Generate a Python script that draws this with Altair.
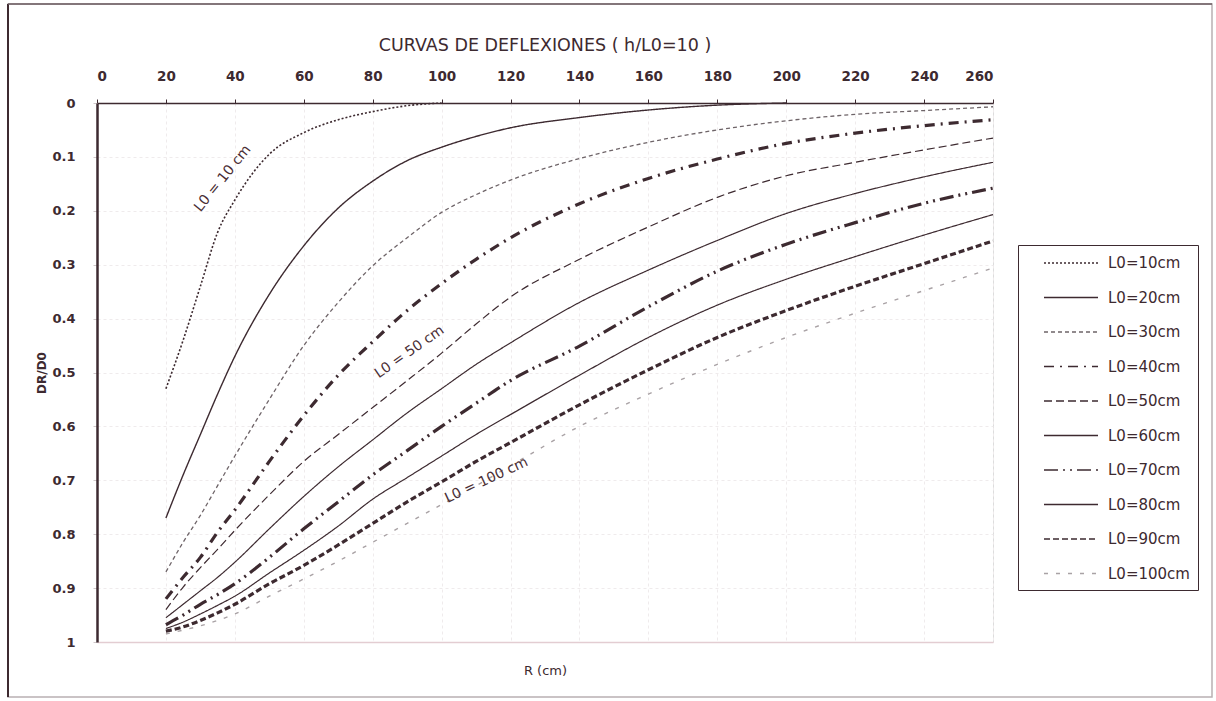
import altair as alt
import pandas as pd

# ---- data ----
R = [20, 25, 30, 35, 40, 50, 60, 70, 80, 90, 100, 110, 120, 140, 160, 180, 200, 220, 240, 260]

L0_10 = [0.53, 0.44, 0.34, 0.24, 0.18, 0.095, 0.055, 0.031, 0.016, 0.005, 0.0,
         None, None, None, None, None, None, None, None, None]
L0_20 = [0.77, 0.69, 0.615, 0.54, 0.47, 0.355, 0.265, 0.195, 0.145, 0.107, 0.082,
         0.062, 0.046, 0.027, 0.013, 0.004, 0.0, None, None, None]
L0_30 = [0.87, 0.815, 0.765, 0.71, 0.655, 0.55, 0.45, 0.37, 0.302, 0.25, 0.203,
         0.17, 0.143, 0.103, 0.073, 0.05, 0.033, 0.021, 0.014, 0.007]
L0_40 = [0.92, 0.88, 0.843, 0.796, 0.755, 0.665, 0.58, 0.505, 0.443, 0.385, 0.335,
         0.29, 0.25, 0.187, 0.14, 0.104, 0.075, 0.056, 0.042, 0.031]
L0_50 = [0.94, 0.898, 0.862, 0.828, 0.793, 0.727, 0.665, 0.615, 0.565, 0.515, 0.464,
         0.41, 0.36, 0.29, 0.23, 0.175, 0.135, 0.11, 0.087, 0.065]
L0_60 = [0.955, 0.93, 0.905, 0.88, 0.852, 0.79, 0.73, 0.675, 0.625, 0.575, 0.53,
         0.485, 0.445, 0.37, 0.31, 0.255, 0.205, 0.168, 0.137, 0.11]
L0_70 = [0.968, 0.95, 0.93, 0.912, 0.892, 0.843, 0.79, 0.74, 0.69, 0.645, 0.6,
         0.557, 0.515, 0.451, 0.378, 0.312, 0.262, 0.222, 0.186, 0.158]
L0_80 = [0.975, 0.963, 0.948, 0.932, 0.915, 0.872, 0.83, 0.785, 0.735, 0.695, 0.655,
         0.615, 0.578, 0.505, 0.435, 0.375, 0.327, 0.285, 0.245, 0.207]
L0_90 = [0.98, 0.972, 0.96, 0.946, 0.93, 0.892, 0.858, 0.82, 0.78, 0.74, 0.703,
         0.665, 0.63, 0.56, 0.495, 0.435, 0.385, 0.34, 0.298, 0.256]
L0_100 = [0.985, 0.978, 0.97, 0.96, 0.948, 0.915, 0.883, 0.85, 0.815, 0.78, 0.745,
          0.71, 0.673, 0.6, 0.54, 0.485, 0.435, 0.39, 0.348, 0.306]

SERIES = ["L0=10cm", "L0=20cm", "L0=30cm", "L0=40cm", "L0=50cm",
          "L0=60cm", "L0=70cm", "L0=80cm", "L0=90cm", "L0=100cm"]
VALUES = [L0_10, L0_20, L0_30, L0_40, L0_50, L0_60, L0_70, L0_80, L0_90, L0_100]

TITLE = "CURVAS DE DEFLEXIONES ( h/L0=10 )"

# curve annotations
LABEL_TEXT = ["L0 = 10 cm", "L0 = 50 cm", "L0 = 100 cm"]
LABEL_R = [36.5, 90.7, 113]
LABEL_DR = [0.14, 0.462, 0.70]
LABEL_ANGLE = [309, 325, 335]

# ---- styles ----
DARK = "#3d2a30"
COLORS = [DARK, DARK, "#6e6468", DARK, DARK, DARK, DARK, DARK, DARK, "#a9a2a5"]
DASHES = [[2, 2], [1, 0], [4, 3], [10, 6, 2, 6], [8, 4],
          [1, 0], [14, 5, 2, 5, 2, 5], [1, 0], [6, 3], [4, 8]]
WIDTHS = [1.6, 1.4, 1.3, 3.2, 1.2, 1.2, 3.2, 1.2, 3.2, 1.4]

rows = []
for name, vals, w in zip(SERIES, VALUES, WIDTHS):
    for r, v in zip(R, vals):
        if v is not None:
            rows.append({"R": r, "DR": v, "serie": name, "w": w})
df = pd.DataFrame(rows)

labels_df = pd.DataFrame({"R": LABEL_R, "DR": LABEL_DR, "txt": LABEL_TEXT, "ang": LABEL_ANGLE})

xscale = alt.Scale(domain=[0, 260], nice=False, zero=False)
yscale = alt.Scale(domain=[0, 1], reverse=True, nice=False)

legend = alt.Legend(
    title=None, orient="none", legendX=921, legendY=142,
    symbolType="M-3,0H3", symbolSize=324, symbolStrokeWidth=1.5, symbolOffset=35,
    labelFontSize=15, labelFont="DejaVu Sans", labelColor=DARK,
    strokeColor=DARK, padding=8, rowPadding=16.5, labelOffset=27,
)

lines = alt.Chart(df).mark_line(interpolate="monotone").encode(
    x=alt.X("R:Q", scale=xscale,
            axis=alt.Axis(orient="top", values=list(range(0, 261, 20)), title=None,
                          labelFont="DejaVu Sans", labelFontSize=13.5, labelFontWeight="bold",
                          labelColor=DARK, domainColor=DARK, domainWidth=1.5,
                          tickColor=DARK, tickSize=4, labelPadding=16,
                          grid=True, gridColor="#efebec", gridDash=[3, 3])),
    y=alt.Y("DR:Q", scale=yscale,
            axis=alt.Axis(values=[0, 0.1, 0.2, 0.3, 0.4, 0.5, 0.6, 0.7, 0.8, 0.9, 1],
                          format="~g", title="DR/D0", titleFont="DejaVu Sans",
                          titleFontSize=12, titleFontWeight="bold", titleColor=DARK,
                          titlePadding=3,
                          labelFont="DejaVu Sans", labelFontSize=13, labelFontWeight="bold",
                          labelColor=DARK, domainColor=DARK, domainWidth=2.5,
                          tickColor="#cfc7c9", tickSize=4, labelPadding=18,
                          grid=True, gridColor="#efebec", gridDash=[3, 3])),
    color=alt.Color("serie:N", scale=alt.Scale(domain=SERIES, range=COLORS), legend=legend),
    strokeDash=alt.StrokeDash("serie:N", scale=alt.Scale(domain=SERIES, range=DASHES), legend=legend),
    strokeWidth=alt.StrokeWidth("w:Q", scale=None, legend=None),
    detail="serie:N",
)

texts = alt.Chart(labels_df).mark_text(
    font="DejaVu Sans", fontSize=14, color="#4a2e35", align="center", baseline="middle"
).encode(
    x=alt.X("R:Q", scale=xscale,
            axis=alt.Axis(orient="bottom", labels=False, ticks=False, grid=False,
                          domainColor="#e3cdd2", domainWidth=1.5,
                          title="R (cm)", titleFont="DejaVu Sans", titleFontSize=13,
                          titleFontWeight="normal", titleColor=DARK, titlePadding=22)),
    y=alt.Y("DR:Q", scale=yscale),
    text="txt:N",
    angle=alt.Angle("ang:Q", scale=None),
)

# outer frame of the figure and the title (decoration)
frame_df = pd.DataFrame({"k": [0]})
frame = alt.Chart(frame_df).mark_rect(fillOpacity=0, stroke="#b9b0b3", strokeWidth=1.5).encode(
    x=alt.value(-89), x2=alt.value(1115), y=alt.value(-99), y2=alt.value(594)
)
frame_left = alt.Chart(frame_df).mark_rule(color="#3d2a30", strokeWidth=2).encode(
    x=alt.value(-89), y=alt.value(-99), y2=alt.value(594)
)
frame_top = alt.Chart(frame_df).mark_rule(color="#6b5c61", strokeWidth=1.5).encode(
    x=alt.value(-89), x2=alt.value(1115), y=alt.value(-99)
)
title = alt.Chart(frame_df).mark_text(
    font="DejaVu Sans", fontSize=17.5, color=DARK, align="center", baseline="middle"
).encode(x=alt.value(448), y=alt.value(-57), text=alt.value(TITLE))

chart = alt.layer(frame, frame_left, frame_top, lines, texts, title).resolve_axis(x="independent").properties(
    width=896, height=539,
    autosize=alt.AutoSizeParams(type="none"),
    padding={"left": 97, "top": 103, "right": 223, "bottom": 59},
).configure_view(stroke="#e6cfd3", strokeWidth=1.5).configure(background="white")

chart.save("out.html", embed_options={"renderer": "svg", "actions": False})
